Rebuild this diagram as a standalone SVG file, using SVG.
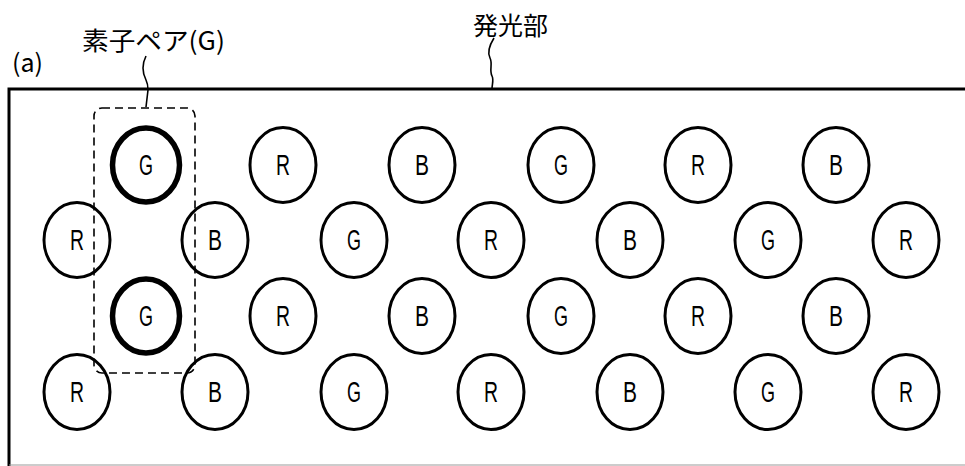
<svg xmlns="http://www.w3.org/2000/svg" width="965" height="466" viewBox="0 0 965 466">
<style>
.lbl{font-family:"Noto Sans CJK JP","Noto Sans",sans-serif;font-size:25px;fill:#000}
.el{fill:none;stroke:#000;stroke-width:3}
.thick{stroke-width:5.5}
.t{font-family:"Liberation Sans",Arial,sans-serif;font-size:30px;fill:#000;text-anchor:middle}
.lead{fill:none;stroke:#000;stroke-width:1.6}
</style>
<rect width="965" height="466" fill="#fff"/>
<g id="frame">
<path d="M9,466 V89 H965" fill="none" stroke="#000" stroke-width="3"/>
<line x1="9" y1="465" x2="965" y2="465" stroke="#999" stroke-width="1"/>
</g>
<g id="labels">
<text class="lbl" x="82" y="50" textLength="143" lengthAdjust="spacingAndGlyphs">素子ペア(G)</text>
<text class="lbl" x="12" y="72" font-size="22" textLength="31" lengthAdjust="spacingAndGlyphs">(a)</text>
<text class="lbl" x="473" y="35" textLength="75" lengthAdjust="spacingAndGlyphs">発光部</text>
</g>
<g id="connectors">
<path class="lead" d="M146,56 C141,66 143,74 146,80 C148,84 148,86 148,90 L146,107"/>
<path class="lead" d="M494,38 C489,46 487,52 490,58 C493,64 489,70 492,76 C494,80 492,84 492,89"/>
</g>
<g id="pair">
<rect x="94" y="108" width="101" height="265" rx="8" fill="none" stroke="#000" stroke-width="1.6" stroke-dasharray="8 5"/>
</g>
<g id="row1">
<g id="r1c1"><ellipse class="el thick" cx="146" cy="165" rx="33.5" ry="37"/><text class="t" x="146" y="175" textLength="14" lengthAdjust="spacingAndGlyphs">G</text></g>
<g id="r1c2"><ellipse class="el" cx="283" cy="165" rx="33" ry="37.5"/><text class="t" x="283" y="175" textLength="14" lengthAdjust="spacingAndGlyphs">R</text></g>
<g id="r1c3"><ellipse class="el" cx="422" cy="165" rx="33" ry="37.5"/><text class="t" x="422" y="175" textLength="14" lengthAdjust="spacingAndGlyphs">B</text></g>
<g id="r1c4"><ellipse class="el" cx="561" cy="165" rx="33" ry="37.5"/><text class="t" x="561" y="175" textLength="14" lengthAdjust="spacingAndGlyphs">G</text></g>
<g id="r1c5"><ellipse class="el" cx="698" cy="165" rx="33" ry="37.5"/><text class="t" x="698" y="175" textLength="14" lengthAdjust="spacingAndGlyphs">R</text></g>
<g id="r1c6"><ellipse class="el" cx="836" cy="165" rx="33" ry="37.5"/><text class="t" x="836" y="175" textLength="14" lengthAdjust="spacingAndGlyphs">B</text></g>
</g>
<g id="row2">
<g id="r2c1"><ellipse class="el" cx="77" cy="240" rx="33" ry="37.5"/><text class="t" x="77" y="250" textLength="14" lengthAdjust="spacingAndGlyphs">R</text></g>
<g id="r2c2"><ellipse class="el" cx="215" cy="240" rx="33" ry="37.5"/><text class="t" x="215" y="250" textLength="14" lengthAdjust="spacingAndGlyphs">B</text></g>
<g id="r2c3"><ellipse class="el" cx="354" cy="240" rx="33" ry="37.5"/><text class="t" x="354" y="250" textLength="14" lengthAdjust="spacingAndGlyphs">G</text></g>
<g id="r2c4"><ellipse class="el" cx="491" cy="240" rx="33" ry="37.5"/><text class="t" x="491" y="250" textLength="14" lengthAdjust="spacingAndGlyphs">R</text></g>
<g id="r2c5"><ellipse class="el" cx="630" cy="240" rx="33" ry="37.5"/><text class="t" x="630" y="250" textLength="14" lengthAdjust="spacingAndGlyphs">B</text></g>
<g id="r2c6"><ellipse class="el" cx="768" cy="240" rx="33" ry="37.5"/><text class="t" x="768" y="250" textLength="14" lengthAdjust="spacingAndGlyphs">G</text></g>
<g id="r2c7"><ellipse class="el" cx="906" cy="240" rx="33" ry="37.5"/><text class="t" x="906" y="250" textLength="14" lengthAdjust="spacingAndGlyphs">R</text></g>
</g>
<g id="row3">
<g id="r3c1"><ellipse class="el thick" cx="146" cy="316" rx="33.5" ry="37"/><text class="t" x="146" y="326" textLength="14" lengthAdjust="spacingAndGlyphs">G</text></g>
<g id="r3c2"><ellipse class="el" cx="283" cy="316" rx="33" ry="37.5"/><text class="t" x="283" y="326" textLength="14" lengthAdjust="spacingAndGlyphs">R</text></g>
<g id="r3c3"><ellipse class="el" cx="422" cy="316" rx="33" ry="37.5"/><text class="t" x="422" y="326" textLength="14" lengthAdjust="spacingAndGlyphs">B</text></g>
<g id="r3c4"><ellipse class="el" cx="561" cy="316" rx="33" ry="37.5"/><text class="t" x="561" y="326" textLength="14" lengthAdjust="spacingAndGlyphs">G</text></g>
<g id="r3c5"><ellipse class="el" cx="698" cy="316" rx="33" ry="37.5"/><text class="t" x="698" y="326" textLength="14" lengthAdjust="spacingAndGlyphs">R</text></g>
<g id="r3c6"><ellipse class="el" cx="836" cy="316" rx="33" ry="37.5"/><text class="t" x="836" y="326" textLength="14" lengthAdjust="spacingAndGlyphs">B</text></g>
</g>
<g id="row4">
<g id="r4c1"><ellipse class="el" cx="77" cy="392" rx="33" ry="37.5"/><text class="t" x="77" y="402" textLength="14" lengthAdjust="spacingAndGlyphs">R</text></g>
<g id="r4c2"><ellipse class="el" cx="215" cy="392" rx="33" ry="37.5"/><text class="t" x="215" y="402" textLength="14" lengthAdjust="spacingAndGlyphs">B</text></g>
<g id="r4c3"><ellipse class="el" cx="354" cy="392" rx="33" ry="37.5"/><text class="t" x="354" y="402" textLength="14" lengthAdjust="spacingAndGlyphs">G</text></g>
<g id="r4c4"><ellipse class="el" cx="491" cy="392" rx="33" ry="37.5"/><text class="t" x="491" y="402" textLength="14" lengthAdjust="spacingAndGlyphs">R</text></g>
<g id="r4c5"><ellipse class="el" cx="630" cy="392" rx="33" ry="37.5"/><text class="t" x="630" y="402" textLength="14" lengthAdjust="spacingAndGlyphs">B</text></g>
<g id="r4c6"><ellipse class="el" cx="768" cy="392" rx="33" ry="37.5"/><text class="t" x="768" y="402" textLength="14" lengthAdjust="spacingAndGlyphs">G</text></g>
<g id="r4c7"><ellipse class="el" cx="906" cy="392" rx="33" ry="37.5"/><text class="t" x="906" y="402" textLength="14" lengthAdjust="spacingAndGlyphs">R</text></g>
</g>
</svg>
